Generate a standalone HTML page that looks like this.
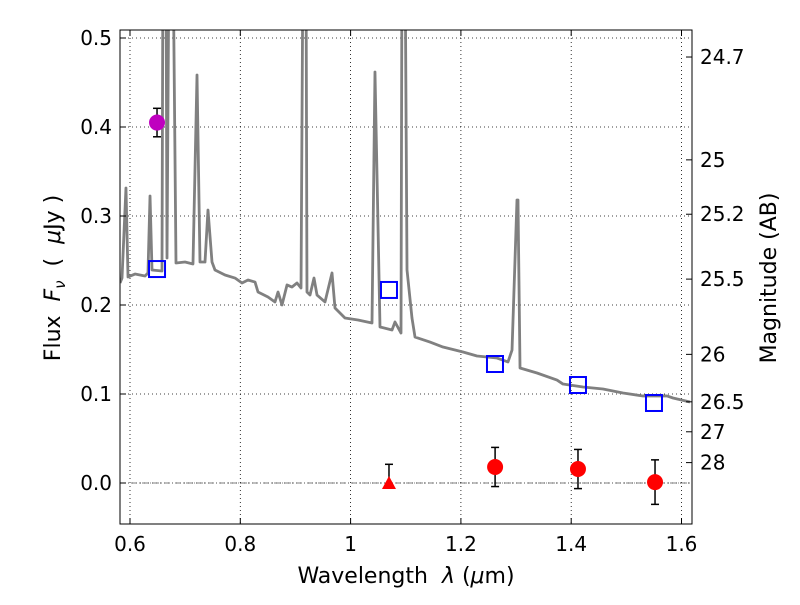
<!DOCTYPE html>
<html><head><meta charset="utf-8"><style>
body{margin:0;background:#fff}
svg text{font-family:"DejaVu Sans","Liberation Sans",sans-serif;fill:#000}
</style></head><body>
<svg id="chart" width="800" height="600" viewBox="0 0 800 600" xmlns="http://www.w3.org/2000/svg"></svg>
<script>
const specLam=[0.582,0.5855,0.5927,0.5964,0.6091,0.6272,0.6326,0.6363,0.6399,0.658,0.6598,0.6652,0.6671,0.6707,0.678,0.6834,0.6997,0.7142,0.7215,0.7269,0.736,0.7414,0.7487,0.7541,0.7723,0.7904,0.8031,0.814,0.8267,0.8321,0.8502,0.8629,0.8684,0.8756,0.8847,0.8937,0.9028,0.9101,0.9137,0.9191,0.9209,0.9264,0.9336,0.9391,0.9536,0.9663,0.9717,0.9898,1.0134,1.0388,1.0442,1.0533,1.0751,1.0805,1.0914,1.0932,1.0987,1.1023,1.1113,1.1168,1.144,1.1675,1.2038,1.2292,1.2655,1.2854,1.2927,1.3017,1.3035,1.3072,1.338,1.3743,1.3851,1.4214,1.4577,1.4939,1.5302,1.5737,1.5846,1.6154];
const specFlux=[0.2247,0.2303,0.3315,0.2315,0.2348,0.2326,0.236,0.3225,0.2393,0.2382,0.6,0.6,0.2528,0.6,0.6,0.2472,0.2483,0.2461,0.4584,0.2483,0.2483,0.3067,0.2483,0.2393,0.2337,0.2303,0.2247,0.2281,0.2258,0.2146,0.209,0.2034,0.2146,0.2,0.2225,0.2202,0.2247,0.2191,0.6,0.6,0.2146,0.2112,0.2303,0.2112,0.2034,0.236,0.1966,0.1854,0.1831,0.1798,0.4618,0.1753,0.1719,0.1809,0.1685,0.6,0.6,0.2393,0.1854,0.164,0.1584,0.1528,0.1472,0.1427,0.1404,0.136,0.1494,0.318,0.318,0.1292,0.1236,0.1157,0.1112,0.1079,0.1056,0.1011,0.0978,0.0978,0.0955,0.091];
const modelLam=[0.649,1.0696,1.2618,1.4123,1.5501];
const modelFlux=[0.2404,0.2169,0.1337,0.1101,0.0899];
const obsLam=[1.262,1.4123,1.552];
const obsFlux=[0.018,0.0157,0.001];
const obsErr=[0.022,0.022,0.025];
const limLam=[1.0696];const limFlux=[0.0];const limErr=[0.021];
const bLam=[0.649];const bFlux=[0.405];const bErr=[0.016];
const xTicks=[0.6,0.8,1.0,1.2,1.4,1.6];
const xTickLabels=["0.6","0.8","1","1.2","1.4","1.6"];
const yTicks=[0,0.1,0.2,0.3,0.4,0.5];
const yTickLabels=["0.0","0.1","0.2","0.3","0.4","0.5"];
const magTicks=[24.7,25,25.2,25.5,26,26.5,27,28];

const L=120,R=692,T=30,B=524;
const X=v=>130+(v-0.6)*551.5;
const Y=v=>483-v*890;
const svg=document.getElementById('chart');
const NS='http://www.w3.org/2000/svg';
function mk(tag,attrs,parent){const e=document.createElementNS(NS,tag);for(const k in attrs)e.setAttribute(k,attrs[k]);(parent||svg).appendChild(e);return e;}

const clip=mk('clipPath',{id:'pc'});mk('rect',{x:L,y:T,width:R-L,height:B-T},clip);
const grid=mk('g',{});


xTicks.forEach(v=>{mk('line',{x1:X(v),x2:X(v),y1:T,y2:B,stroke:'#000','stroke-width':0.8,'stroke-dasharray':'1,3'},grid);});
yTicks.forEach(v=>{mk('line',{x1:L,x2:R,y1:Y(v),y2:Y(v),stroke:'#000','stroke-width':0.8,'stroke-dasharray':'1,3'},grid);});
const zl=mk('line',{x1:L,x2:R,y1:Y(0),y2:Y(0),stroke:'#555','stroke-width':0.8,'stroke-dasharray':'6,2,1,2'});



const g=mk('g',{'clip-path':'url(#pc)'});
const sp=mk('polyline',{points:specLam.map((l,i)=>X(l)+','+Y(specFlux[i])).join(' '),fill:'none',stroke:'#808080','stroke-width':2.8,'stroke-linejoin':'round'},g);



modelLam.forEach((l,i)=>{const r=mk('rect',{x:X(l)-8,y:Y(modelFlux[i])-8,width:16,height:16,fill:'none',stroke:'#0000ff','stroke-width':2});

});
function err(l,f,eu,ed){mk('line',{x1:X(l),x2:X(l),y1:Y(f+eu),y2:Y(f-ed),stroke:'#000','stroke-width':1.5});mk('line',{x1:X(l)-4,x2:X(l)+4,y1:Y(f+eu),y2:Y(f+eu),stroke:'#000','stroke-width':1.5});if(ed>0)mk('line',{x1:X(l)-4,x2:X(l)+4,y1:Y(f-ed),y2:Y(f-ed),stroke:'#000','stroke-width':1.5});}
obsLam.forEach((l,i)=>{err(l,obsFlux[i],obsErr[i],obsErr[i]);const c=mk('circle',{cx:X(l),cy:Y(obsFlux[i]),r:8,fill:'#ff0000'});

});
limLam.forEach((l,i)=>{err(l,limFlux[i],limErr[i],0);const x=X(l),y=Y(limFlux[i]);const p=mk('polygon',{points:`${x},${y-7} ${x-7},${y+6} ${x+7},${y+6}`,fill:'#ff0000'});

});
bLam.forEach((l,i)=>{err(l,bFlux[i],bErr[i],bErr[i]);const c=mk('circle',{cx:X(l),cy:Y(bFlux[i]),r:8,fill:'#bf00bf'});

});

const fr=mk('rect',{x:L,y:T,width:R-L,height:B-T,fill:'none',stroke:'#000','stroke-width':1});


xTicks.forEach((v,i)=>{mk('line',{x1:X(v),x2:X(v),y1:B,y2:B-6,stroke:'#000'});mk('line',{x1:X(v),x2:X(v),y1:T,y2:T+6,stroke:'#000'});
const t=mk('text',{x:X(v),y:B+27,'text-anchor':'middle','font-size':20});t.textContent=xTickLabels[i];

});
yTicks.forEach((v,i)=>{mk('line',{x1:L,x2:L+6,y1:Y(v),y2:Y(v),stroke:'#000'});
const t=mk('text',{x:L-8,y:Y(v)+7,'text-anchor':'end','font-size':20});t.textContent=yTickLabels[i];

});
magTicks.forEach(m=>{const f=Math.pow(10,(23.9-m)/2.5);const y=Y(f);mk('line',{x1:R,x2:R-6,y1:y,y2:y,stroke:'#000'});
const t=mk('text',{x:R+8,y:y+7,'font-size':20});t.textContent=String(m);

});
</script>
<svg width="800" height="600" style="position:absolute;left:0;top:0;pointer-events:none" xmlns="http://www.w3.org/2000/svg">
<text x="406" y="583" text-anchor="middle" font-size="22" xml:space="preserve">Wavelength  <tspan font-style="italic">λ</tspan> (<tspan font-style="italic">μ</tspan>m)</text>
<text transform="translate(60,278) rotate(-90)" text-anchor="middle" font-size="22" xml:space="preserve">Flux  <tspan font-style="italic">F</tspan><tspan font-style="italic" font-size="15" dy="5">ν</tspan><tspan dy="-5">  (  </tspan><tspan font-style="italic">μ</tspan>Jy )</text>
<text transform="translate(776,278) rotate(-90)" text-anchor="middle" font-size="22">Magnitude (AB)</text>
</svg>
</body></html>
